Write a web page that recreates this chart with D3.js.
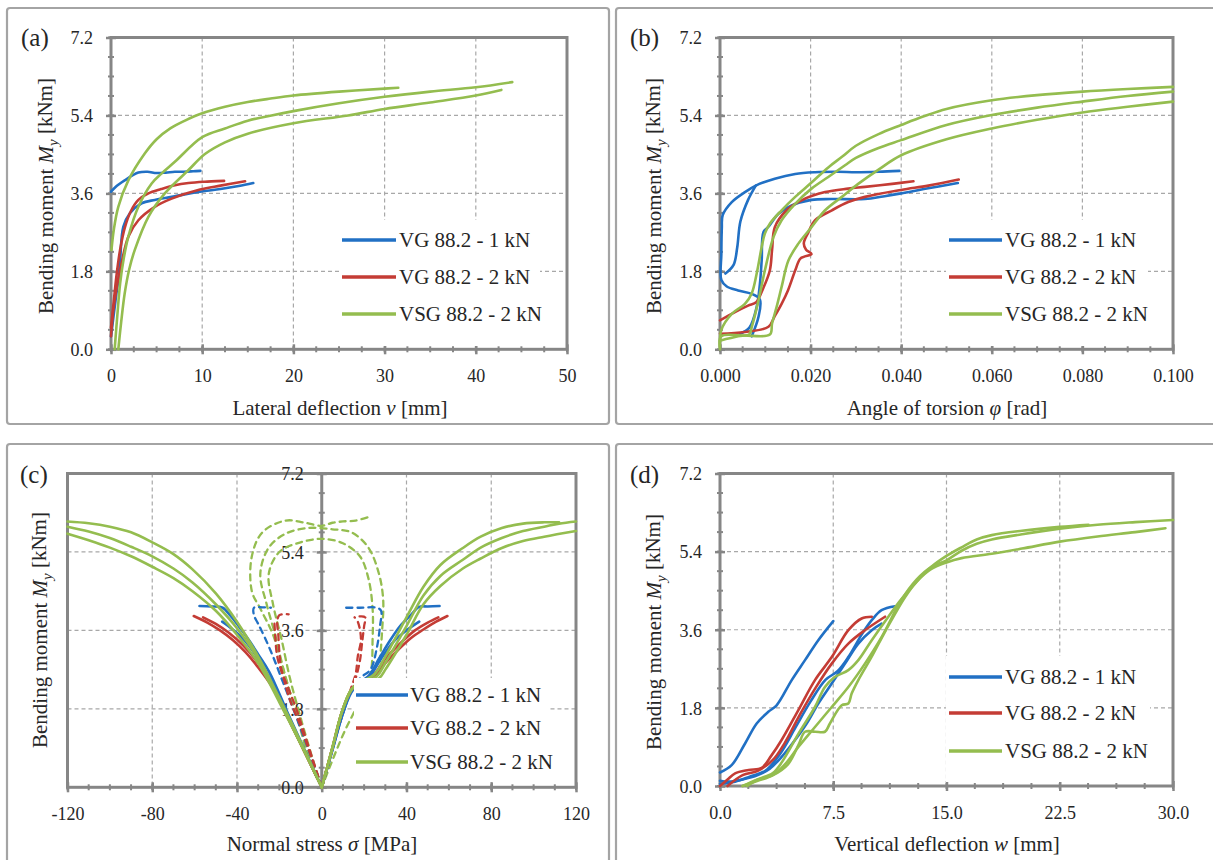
<!DOCTYPE html>
<html><head><meta charset="utf-8">
<script src="https://cdn.jsdelivr.net/npm/d3@7"></script>
<style>
body{margin:0;background:#fff}
svg{display:block}
svg text{font-family:"Liberation Serif","Tinos","Times New Roman","DejaVu Serif",serif;fill:#262626}
</style>
</head><body>
<svg id="chart" width="1213" height="860"></svg>
<script>
// ---------------- DATA ----------------
const seriesNames = ["VG 88.2 - 1 kN", "VG 88.2 - 2 kN", "VSG 88.2 - 2 kN"];
const yTicks = [0, 1.8, 3.6, 5.4, 7.2];
const aTicks = [0, 10, 20, 30, 40, 50];
const bTicks = [0, 0.02, 0.04, 0.06, 0.08, 0.1];
const cTicks = [-120, -80, -40, 0, 40, 80, 120];
const dTicks = [0, 7.5, 15, 22.5, 30];

// (a) lateral deflection v [mm] vs M_y [kNm]
const aBlue1 = [[0,3.64],[0.5,3.75],[1.5,3.9],[3,4.08],[4,4.1],[5,4.07],[6,4.08],[7,4.1],[8,4.1],[9,4.11],[9.8,4.12]];
const aBlue2 = [[0,0.3],[0.3,0.8],[0.6,1.3],[0.8,1.6],[1.0,2.06],[1.35,2.83],[2.07,3.14],[3.36,3.37],[4.8,3.45],[6.65,3.52],[9.76,3.64],[12,3.7],[14,3.77],[15.6,3.84]];
const aRed1 = [[0,0.3],[0.25,0.9],[0.6,1.4],[1.0,1.83],[1.9,2.6],[3.0,2.98],[4.8,3.29],[6.65,3.48],[9.76,3.69],[12,3.78],[14.7,3.88]];
const aRed2 = [[0,0.5],[0.3,1.1],[0.6,1.7],[1,2.3],[1.5,2.8],[2.2,3.2],[3,3.45],[4.1,3.6],[5.5,3.7],[7,3.79],[8.5,3.84],[10.3,3.87],[12.4,3.89]];
const aGreen1 = [[0.05,2.29],[0.3,2.75],[0.8,3.29],[1.9,3.9],[3.7,4.52],[5,4.85],[6.5,5.1],[8,5.27],[10,5.45],[12.5,5.6],[15,5.71],[17.5,5.79],[20,5.86],[25,5.95],[30,6.02],[31.5,6.04]];
const aGreen2 = [[0.4,0],[0.7,0.8],[1.0,1.52],[1.4,2.1],[1.9,2.6],[3.0,3.29],[4.46,3.83],[5.5,4.05],[7,4.33],[10,4.9],[12.5,5.1],[15,5.28],[17.6,5.4],[20,5.5],[25,5.68],[30,5.83],[35,5.95],[40,6.05],[44,6.17]];
const aGreen3 = [[0.8,0],[1.1,0.6],[1.5,1.29],[2.0,1.85],[2.6,2.29],[4.1,3.06],[5.9,3.6],[8.5,4.14],[10.3,4.51],[12.5,4.78],[15,4.98],[20,5.22],[26,5.4],[30,5.55],[35,5.7],[40,5.86],[42.8,5.99]];

// (b) angle of torsion phi [rad] vs M_y [kNm]
const bBlue1 = [[0.007,0.3],[0.0085,0.75],[0.0088,1.15],[0.007,1.28],[0.004,1.36],[0.0015,1.45],[0.0003,1.6],[0.0003,2.2],[0.0004,2.8],[0.0006,3.1],[0.0026,3.4],[0.0055,3.63],[0.0079,3.78],[0.0121,3.94],[0.0166,4.05],[0.021,4.09],[0.026,4.1],[0.03,4.09],[0.035,4.1],[0.0396,4.12]];
const bBlue2 = [[0.0044,0.36],[0.0065,0.5],[0.0081,0.98],[0.0088,1.5],[0.0092,2.05],[0.0096,2.71],[0.0107,2.83],[0.0129,3.13],[0.0158,3.32],[0.0202,3.45],[0.0246,3.47],[0.032,3.47],[0.036,3.53],[0.04,3.6],[0.045,3.7],[0.0525,3.84]];
const bBlue3 = [[0.0079,3.78],[0.0062,3.45],[0.0045,2.95],[0.0038,2.35],[0.003,1.95],[0.0012,1.75]];
const bRed1 = [[0,0.67],[0.0033,0.86],[0.0062,1.01],[0.008,1.09],[0.0095,1.4],[0.011,1.82],[0.0115,2.3],[0.0121,2.82],[0.0147,3.21],[0.018,3.44],[0.0232,3.63],[0.0283,3.71],[0.032,3.75],[0.038,3.82],[0.0427,3.88]];
const bRed2 = [[0,0.36],[0.0055,0.4],[0.0107,0.52],[0.012,0.75],[0.0136,1.05],[0.015,1.36],[0.0166,1.82],[0.0178,2.1],[0.0202,2.2],[0.019,2.3],[0.0185,2.45],[0.0195,2.7],[0.021,2.98],[0.0247,3.21],[0.0283,3.4],[0.032,3.52],[0.04,3.68],[0.046,3.78],[0.0527,3.92]];
const bGreen1 = [[0,0.05],[0.0003,0.45],[0.0026,0.82],[0.0055,1.05],[0.007,1.29],[0.0081,1.75],[0.0092,2.36],[0.0099,2.67],[0.011,2.9],[0.0136,3.21],[0.0166,3.52],[0.0202,3.85],[0.0239,4.2],[0.027,4.45],[0.03,4.7],[0.035,4.97],[0.04,5.18],[0.045,5.38],[0.05,5.55],[0.06,5.75],[0.07,5.87],[0.08,5.95],[0.09,6.01],[0.1,6.06]];
const bGreen2 = [[0,0.2],[0.004,0.3],[0.0065,0.35],[0.007,0.51],[0.0085,1.13],[0.0099,1.82],[0.0118,2.59],[0.0136,2.98],[0.0166,3.36],[0.0202,3.71],[0.0239,3.98],[0.0276,4.25],[0.03,4.42],[0.035,4.65],[0.04,4.83],[0.05,5.18],[0.06,5.41],[0.07,5.58],[0.08,5.72],[0.09,5.85],[0.1,5.95]];
const bGreen3 = [[0,0],[0.0003,0.3],[0.005,0.32],[0.011,0.34],[0.0115,0.6],[0.0125,0.98],[0.0136,1.44],[0.0151,2.05],[0.0173,2.44],[0.0202,2.82],[0.0232,3.21],[0.0269,3.52],[0.0305,3.82],[0.035,4.15],[0.04,4.48],[0.05,4.85],[0.06,5.1],[0.07,5.3],[0.08,5.47],[0.09,5.6],[0.1,5.72]];

// (c) normal stress sigma [MPa] vs M_y [kNm] (solid = gauges one face, dashed = other gauges)
const cBlueL1 = [[0,0],[-8,0.85],[-16,1.7],[-24.8,2.65],[-30,3.05],[-34,3.35],[-38,3.62],[-43,3.93],[-46.8,4.12],[-52,4.15],[-57.7,4.16]];
const cBlueL2 = [[0,0],[-8,0.82],[-16,1.65],[-24,2.45],[-30,2.95],[-36,3.35],[-42,3.62],[-47,3.8]];
const cRedL1 = [[0,0],[-8,0.8],[-16,1.6],[-24,2.35],[-30,2.75],[-36,3.1],[-42,3.38],[-48,3.6],[-54,3.78],[-60.4,3.93]];
const cRedL2 = [[0,0],[-8,0.8],[-16,1.6],[-24,2.4],[-30,2.85],[-37,3.25],[-44,3.55],[-50,3.75],[-56,3.9]];
const cGreenL1 = [[0,0],[-10,1.05],[-20,2.05],[-30,3.0],[-40,3.8],[-50,4.45],[-61,5.0],[-70,5.35],[-80,5.62],[-90,5.85],[-100,5.98],[-110,6.06],[-120,6.1]];
const cGreenL2 = [[0,0],[-10,1.0],[-20,2.0],[-30,2.95],[-40,3.65],[-50,4.2],[-61,4.7],[-70,5.02],[-80,5.3],[-90,5.52],[-100,5.72],[-110,5.87],[-120,5.98]];
const cGreenL3 = [[0,0],[-10,1.0],[-20,1.95],[-30,2.85],[-40,3.5],[-50,4.05],[-61,4.5],[-70,4.8],[-80,5.06],[-90,5.3],[-100,5.5],[-110,5.67],[-120,5.82]];
const cBlueR1 = [[0,0],[5,0.85],[10,1.7],[15,2.3],[22,2.55],[27,2.95],[32,3.35],[37,3.7],[42,3.95],[46,4.14],[50,4.15],[55.6,4.16]];
const cBlueR2 = [[0,0],[5,0.85],[10,1.7],[15,2.25],[22,2.5],[28,2.95],[34,3.35],[40,3.6],[46,3.8]];
const cRedR1 = [[0,0],[5,0.9],[10,1.8],[15,2.3],[24,2.5],[30,2.85],[36,3.15],[42,3.42],[48,3.62],[54,3.8],[59.3,3.93]];
const cRedR2 = [[0,0],[5,0.9],[10,1.8],[15,2.3],[24,2.55],[30,2.95],[37,3.3],[44,3.6],[50,3.78],[55,3.9]];
const cGreenR1 = [[0,0],[5,0.9],[10,1.8],[15,2.3],[25,2.6],[30,3.0],[40,3.9],[48,4.6],[56,5.1],[66.6,5.49],[75,5.75],[85,5.95],[95,6.05],[105,6.08],[112,6.08]];
const cGreenR2 = [[0,0],[5,0.9],[10,1.8],[15,2.3],[26,2.55],[30,2.85],[40,3.7],[48,4.4],[56,4.85],[66.6,5.22],[75,5.5],[85,5.72],[95,5.88],[105,5.98],[112,6.05],[120,6.1]];
const cGreenR3 = [[0,0],[5,0.9],[10,1.8],[15,2.3],[27,2.5],[30,2.7],[40,3.5],[48,4.2],[56,4.62],[66.6,5.02],[75,5.25],[85,5.49],[95,5.65],[105,5.75],[120,5.88]];
const cBlueDashL = [[0,0],[-5,0.7],[-10,1.35],[-15,2.0],[-19,2.5],[-23,3.0],[-27,3.45],[-30,3.75],[-32,3.95],[-32,4.12],[-28,4.13],[-24,4.12]];
const cBlueDashR = [[0,0],[4,0.7],[8,1.4],[12,2.0],[18,2.5],[23,2.7],[26,3.2],[27.5,3.7],[28,4.05],[26,4.12],[18,4.12],[10,4.12]];
const cRedDashL1 = [[0,0],[-4,0.6],[-8,1.2],[-12,1.8],[-16,2.3],[-19,2.7],[-20,3.1],[-20.5,3.5],[-21,3.8],[-20,3.95],[-15.6,3.97]];
const cRedDashL2 = [[0,0],[-5,0.7],[-10,1.4],[-15,2.0],[-18,2.5],[-21,3.0],[-22,3.5],[-22.4,3.85]];
const cRedDashR1 = [[0,0],[4,0.7],[8,1.4],[12,2.0],[16,2.5],[18,2.9],[19,3.3],[20,3.7],[20.5,3.9],[18,3.92],[16,3.9]];
const cRedDashR2 = [[0,0],[5,0.9],[10,1.7],[14,2.3],[16,2.6],[17,3.0],[18.5,3.4],[17,3.8],[15.5,3.9]];
const cGreenDash1 = [[0,0],[-5,0.5],[-11,1.5],[-17,2.5],[-23,3.5],[-29,4.1],[-33,4.5],[-33,5.3],[-28,5.85],[-17,6.12],[-8,6.07],[0,6.0],[5,6.07],[10,6.1],[16,6.12],[22,6.2]];
const cGreenDash2 = [[0,0],[-5,0.6],[-12,1.7],[-18,2.7],[-22,3.5],[-26,4.2],[-29,4.9],[-25,5.5],[-17,5.82],[-6,5.95],[5,5.92],[14,5.85],[22,5.5],[27,4.9],[29,4.3],[28.5,3.6],[27,2.6]];
const cGreenDash3 = [[0,0],[-4,0.6],[-10,1.6],[-15,2.5],[-19,3.4],[-23,4.2],[-25,4.9],[-20,5.4],[-10,5.62],[0,5.7],[10,5.6],[18,5.3],[22,4.8],[24,4.1],[24,3.4],[23,2.6],[18,2.0],[10,1.2],[0,0]];

// (d) vertical deflection w [mm] vs M_y [kNm]
const dBlue1 = [[0,0.31],[0.77,0.48],[1.66,0.98],[2.43,1.44],[3.2,1.71],[3.75,1.86],[4.75,2.44],[5.63,2.9],[6.51,3.36],[7.5,3.8]];
const dBlue2 = [[0,0.12],[0.55,0.1],[1.5,0.15],[2.5,0.25],[3.3,0.4],[4.08,0.67],[4.97,1.06],[5.74,1.44],[6.51,1.9],[7.4,2.36],[8.28,2.82],[9.16,3.28],[10.05,3.59],[10.7,3.74]];
const dBlue3 = [[0,0.05],[1,0.1],[2,0.22],[3,0.35],[4,0.75],[5,1.35],[6,1.95],[7,2.45],[7.8,2.65],[8.5,2.97],[9.4,3.5],[10.05,3.82],[10.7,4.05],[11.6,4.14]];
const dRed1 = [[0,0],[0.5,0.15],[1,0.29],[1.9,0.37],[2.76,0.42],[3.4,0.7],[4.08,1.06],[5.19,1.75],[6.29,2.44],[7.4,2.97],[8.5,3.59],[9.38,3.86],[10.05,3.9]];
const dRed2 = [[0.5,0],[1.5,0.25],[2.5,0.35],[3.5,0.6],[4.3,1.0],[5.3,1.65],[6.4,2.3],[7.4,2.82],[8.5,3.28],[9.6,3.59],[10.93,3.9]];
const dGreen1 = [[1.5,0],[2.5,0.15],[3.5,0.25],[4.5,0.5],[5.2,0.95],[5.63,1.25],[6.3,1.25],[6.95,1.25],[7.28,1.44],[8.06,1.86],[8.5,1.9],[8.72,2.13],[9.16,2.44],[10,2.95],[11,3.6],[12.25,4.35],[13,4.7],[14,5.0],[15,5.15],[16,5.25],[18,5.35],[20,5.47],[22.5,5.63],[25,5.75],[27.5,5.85],[29.5,5.94]];
const dGreen2 = [[1.8,0],[2.5,0.15],[3.5,0.3],[4.1,0.55],[5.19,1.2],[6.29,1.82],[6.95,2.28],[7.6,2.51],[8.5,2.67],[9.16,2.9],[10.05,3.36],[11.15,3.9],[12,4.3],[13,4.7],[14,5.05],[15,5.3],[16,5.5],[17,5.68],[18,5.78],[20,5.88],[22.5,5.97],[24.4,6.02]];
const dGreen3 = [[1.5,0],[2.5,0.12],[3.5,0.25],[4.3,0.5],[5.19,0.9],[6.29,1.36],[7.4,1.82],[8.5,2.28],[9.6,2.82],[10.7,3.43],[12,4.28],[13,4.75],[14,5.05],[15,5.2],[16,5.42],[17,5.58],[18,5.68],[20,5.8],[22.5,5.93],[25,6.02],[27.5,6.08],[30,6.13]];

// ---------------- STYLE / LAYOUT ----------------
const COLORS = ["#2170c4", "#c43c35", "#94bd4f"];
const GRID = "#a8a8a8", AXIS = "#868686", FRAME = "#a4a4a4";
const FONT = '"Liberation Serif","Tinos","Times New Roman","DejaVu Serif",serif';

const svg = d3.select("#chart");
svg.append("rect").attr("width", 1213).attr("height", 860).attr("fill", "#fff");

const panels = [
  { frame:[7,8,609,424], x0:111, x1:567, yb:349.3, yt:37.5, xdom:[0,50], xticks:aTicks, fmt:d=>String(d), minor:2.5,
    yAxisVal:0, label:"(a)", labelPos:[21,46], xtitle:["Lateral deflection ","v"," [mm]"], xtitlePos:[340,415], ytitlePos:[46,196],
    legend:{box:[340,220,540,346], lx:[342,396], tx:399, rows:[240,277,314]},
    series:[[aBlue1,0,false],[aBlue2,0,false],[aRed1,1,false],[aRed2,1,false],[aGreen1,2,false],[aGreen2,2,false],[aGreen3,2,false]] },
  { frame:[616,8,1220,424], x0:720, x1:1173, yb:349.3, yt:37.5, xdom:[0,0.1], xticks:bTicks, fmt:d3.format(".3f"), minor:0.005,
    yAxisVal:0, label:"(b)", labelPos:[630,46], xtitle:["Angle of torsion ","φ"," [rad]"], xtitlePos:[947,415], ytitlePos:[654,196],
    legend:{box:[946,220,1148,346], lx:[949,1002], tx:1005, rows:[240,277,314]},
    series:[[bBlue1,0,false],[bBlue2,0,false],[bBlue3,0,false],[bRed1,1,false],[bRed2,1,false],[bGreen1,2,false],[bGreen2,2,false],[bGreen3,2,false]] },
  { frame:[7,444,609,880], x0:67.5, x1:576, yb:787.3, yt:473.5, xdom:[-120,120], xticks:cTicks, fmt:d=>String(d), minor:10,
    yAxisVal:0, label:"(c)", labelPos:[20,483], xtitle:["Normal stress ","σ"," [MPa]"], xtitlePos:[322,851], ytitlePos:[40,630],
    legend:{box:[354,678,549,782], lx:[356,408], tx:410, rows:[695,728,762]},
    series:[[cGreenDash1,2,true],[cGreenDash2,2,true],[cGreenDash3,2,true],[cBlueDashL,0,true],[cBlueDashR,0,true],
            [cRedDashL1,1,true],[cRedDashL2,1,true],[cRedDashR1,1,true],[cRedDashR2,1,true],
            [cBlueL1,0,false],[cBlueL2,0,false],[cBlueR1,0,false],[cBlueR2,0,false],
            [cRedL1,1,false],[cRedL2,1,false],[cRedR1,1,false],[cRedR2,1,false],
            [cGreenL1,2,false],[cGreenL2,2,false],[cGreenL3,2,false],[cGreenR1,2,false],[cGreenR2,2,false],[cGreenR3,2,false]] },
  { frame:[616,444,1220,880], x0:720, x1:1173, yb:786, yt:473.5, xdom:[0,30], xticks:dTicks, fmt:d3.format(".1f"), minor:1.875,
    yAxisVal:0, label:"(d)", labelPos:[630,483], xtitle:["Vertical deflection ","w"," [mm]"], xtitlePos:[947,851], ytitlePos:[654,632],
    legend:{box:[946,656,1150,782], lx:[949,1002], tx:1005, rows:[677,713,751]},
    series:[[dBlue3,0,false],[dBlue1,0,false],[dBlue2,0,false],[dRed1,1,false],[dRed2,1,false],[dGreen1,2,false],[dGreen2,2,false],[dGreen3,2,false]] }
];

panels.forEach((p, pi) => {
  const g = svg.append("g").attr("font-family", FONT);
  const [fx0, fy0, fx1, fy1] = p.frame;
  g.append("rect").attr("x", fx0).attr("y", fy0).attr("width", fx1 - fx0).attr("height", fy1 - fy0)
    .attr("rx", 3).attr("fill", "none").attr("stroke", FRAME).attr("stroke-width", 2.2);

  const x = d3.scaleLinear().domain(p.xdom).range([p.x0, p.x1]);
  const y = d3.scaleLinear().domain([0, 7.2]).range([p.yb, p.yt]);
  const ax = x(p.yAxisVal);

  // grid
  const grid = g.append("g").attr("stroke", GRID).attr("stroke-width", 1.2).attr("stroke-dasharray", "4,3");
  p.xticks.filter(t => t !== p.xdom[0] && t !== p.xdom[1] && t !== p.yAxisVal).forEach(t => {
    grid.append("line").attr("x1", x(t)).attr("x2", x(t)).attr("y1", y(7.2)).attr("y2", y(0));
  });
  yTicks.filter(t => t > 0 && t < 7.2).forEach(t => {
    grid.append("line").attr("x1", x(p.xdom[0])).attr("x2", x(p.xdom[1])).attr("y1", y(t)).attr("y2", y(t));
  });

  // plot border
  g.append("rect").attr("x", p.x0).attr("y", p.yt).attr("width", p.x1 - p.x0).attr("height", p.yb - p.yt)
    .attr("fill", "none").attr("stroke", AXIS).attr("stroke-width", 3);

  // x axis (bottom)
  const xAxis = d3.axisBottom(x).tickValues(p.xticks).tickFormat(p.fmt).tickSize(5).tickPadding(0);
  const xg = g.append("g").attr("transform", `translate(0,${p.yb})`).call(xAxis).attr("font-family", FONT).attr("font-size", 18);
  xg.select(".domain").remove();
  xg.selectAll(".tick line").attr("y1", -5).attr("y2", 5).attr("stroke", AXIS).attr("stroke-width", 2.5);
  xg.selectAll(".tick text").attr("y", 20).attr("dy", "0.71em").attr("fill", "#2a2a2a");

  // y axis
  if (p.yAxisVal !== p.xdom[0]) {
    g.append("line").attr("x1", ax).attr("x2", ax).attr("y1", y(0)).attr("y2", y(7.2)).attr("stroke", AXIS).attr("stroke-width", 3);
  }
  const yAxis = d3.axisLeft(y).tickValues(yTicks).tickFormat(d3.format(".1f")).tickSize(5).tickPadding(0);
  const yg = g.append("g").attr("transform", `translate(${ax},0)`).call(yAxis).attr("font-family", FONT).attr("font-size", 18);
  yg.select(".domain").remove();
  yg.selectAll(".tick line").attr("x1", -5).attr("x2", 5).attr("stroke", AXIS).attr("stroke-width", 2.5);
  yg.selectAll(".tick text").attr("x", -18).attr("dy", "0.35em").attr("fill", "#2a2a2a");

  // minor ticks
  const minorG = g.append("g").attr("stroke", AXIS).attr("stroke-width", 2);
  const nx = Math.round((p.xdom[1] - p.xdom[0]) / p.minor);
  d3.range(nx + 1).map(i => p.xdom[0] + i * p.minor).forEach(v => {
    minorG.append("line").attr("x1", x(v)).attr("x2", x(v)).attr("y1", p.yb - 3).attr("y2", p.yb + 3);
  });
  d3.range(17).map(i => i * 0.45).forEach(v => {
    minorG.append("line").attr("x1", ax - 3).attr("x2", ax + 3).attr("y1", y(v)).attr("y2", y(v));
  });

  // panel label
  g.append("text").attr("x", p.labelPos[0]).attr("y", p.labelPos[1]).attr("font-size", 25).text(p.label);

  // x title
  const xt = g.append("text").attr("x", p.xtitlePos[0]).attr("y", p.xtitlePos[1]).attr("text-anchor", "middle").attr("font-size", 21);
  xt.append("tspan").text(p.xtitle[0]);
  xt.append("tspan").attr("font-style", "italic").text(p.xtitle[1]);
  xt.append("tspan").text(p.xtitle[2]);

  // y title
  const yt = g.append("text").attr("transform", `translate(${p.ytitlePos[0]},${p.ytitlePos[1]}) rotate(-90)`)
    .attr("text-anchor", "middle").attr("dy", "0.35em").attr("font-size", 21);
  yt.append("tspan").text("Bending moment ");
  yt.append("tspan").attr("font-style", "italic").text("M");
  yt.append("tspan").attr("font-style", "italic").attr("font-size", 15).attr("dy", "0.3em").text("y");
  yt.append("tspan").attr("dy", "-0.3em").text(" [kNm]");

  // curves
  const clipId = "clip" + pi;
  svg.append("clipPath").attr("id", clipId).append("rect")
    .attr("x", p.x0 - 2).attr("y", p.yt - 2).attr("width", p.x1 - p.x0 + 4).attr("height", p.yb - p.yt + 4);
  const line = d3.line().x(d => x(d[0])).y(d => y(d[1])).curve(d3.curveCatmullRom.alpha(0.5));
  const cg = g.append("g").attr("clip-path", `url(#${clipId})`);
  p.series.forEach(([data, ci, dashed]) => {
    cg.append("path").attr("d", line(data)).attr("fill", "none").attr("stroke", COLORS[ci])
      .attr("stroke-width", dashed ? 2.3 : 2.6).attr("stroke-linejoin", "round").attr("stroke-linecap", "round")
      .attr("stroke-dasharray", dashed ? "6,5" : null);
  });

  // legend
  const L = p.legend;
  const lg = g.append("g");
  lg.append("rect").attr("x", L.box[0]).attr("y", L.box[1]).attr("width", L.box[2] - L.box[0]).attr("height", L.box[3] - L.box[1]).attr("fill", "#fff");
  seriesNames.forEach((name, i) => {
    lg.append("line").attr("x1", L.lx[0]).attr("x2", L.lx[1]).attr("y1", L.rows[i]).attr("y2", L.rows[i])
      .attr("stroke", COLORS[i]).attr("stroke-width", 3.5);
    lg.append("text").attr("x", L.tx).attr("y", L.rows[i]).attr("dy", "0.35em").attr("font-size", 21).text(name);
  });
});
</script>
</body></html>
